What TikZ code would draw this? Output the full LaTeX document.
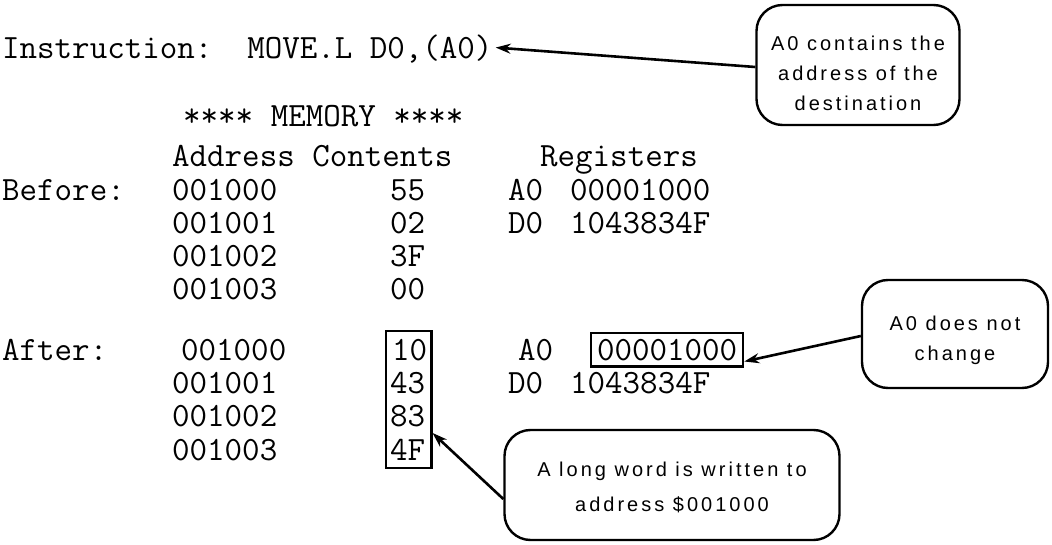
\documentclass[tikz,border=0pt]{standalone}
\usepackage{fontspec}
\newfontfamily\notefont[LetterSpace=15]{Liberation Sans}
\usetikzlibrary{arrows.meta,fit,calc}
\tikzset{every node/.style={inner sep=0pt, anchor=base west, font=\ttfamily\fontsize{34}{34}\selectfont},
  note/.style={draw, line width=2.4pt, rounded corners=26pt, anchor=center},
  notetext/.style={anchor=center, align=center, font=\notefont\fontsize{20}{30}\selectfont},
  pointer/.style={line width=2.6pt, -{Stealth[length=15pt,width=10pt]}},
  framed/.style={draw, line width=2.2pt}}

\begin{document}
\begin{tikzpicture}[x=1pt,y=-1pt]
  \useasboundingbox (0,0) rectangle (1052,545);
  \node (instr) at (2,59) {Instruction:~~MOVE.L D0,(A0)};
  \node (mem) at (183,127) {**** MEMORY ****};
  \node (hdaddr) at (172,167) {Address Contents};
  \node (hdreg) at (540,167) {Registers};
  % before
  \node (before) at (2,201) {Before:};
  \node (b1) at (172,201) {001000};
  \node (b2) at (172,234) {001001};
  \node (b3) at (172,267) {001002};
  \node (b4) at (172,300) {001003};
  \node (bc1) at (390,201) {55};
  \node (bc2) at (390,234) {02};
  \node (bc3) at (390,267) {3F};
  \node (bc4) at (390,300) {00};
  \node (ba0) at (508,201) {A0};
  \node (ba0v) at (570,201) {00001000};
  \node (bd0) at (508,234) {D0};
  \node (bd0v) at (570,234) {1043834F};
  % after
  \node (after) at (2,360) {After:};
  \node (a1) at (181,360) {001000};
  \node (a2) at (172,393) {001001};
  \node (a3) at (172,426) {001002};
  \node (a4) at (172,460) {001003};
  \node (ac1) at (392,360) {10};
  \node (ac2) at (390,393) {43};
  \node (ac3) at (390,426) {83};
  \node (ac4) at (390,460) {4F};
  \node (aa0) at (518,360) {A0};
  \node[framed, inner xsep=6pt, inner ysep=6pt] (aa0v) at (590,360) {00001000};
  \node (ad0) at (508,393) {D0};
  \node (ad0v) at (570,393) {1043834F};
  \node[framed, inner xsep=4pt, inner ysep=8pt, fit=(ac1)(ac2)(ac3)(ac4)] (cbox) {};
  % notes
  \node[note, minimum width=203pt, minimum height=120pt,
    label={[notetext, yshift=-8pt]center:{A0 contains the\\address of the\\destination}}] (ndest) at (858,65) {};
  \node[note, minimum width=186pt, minimum height=108pt,
    label={[notetext, yshift=-6pt]center:{A0 does not\\change}}] (nkeep) at (955,334) {};
  \node[note, minimum width=335pt, minimum height=110pt,
    label={[notetext, yshift=-2pt]center:{A long word is written to\\[5pt]address \$001000}}] (nlong) at (672,485) {};
  \draw[pointer] ([yshift=-2pt]ndest.west) -- ([xshift=3pt,yshift=2pt]instr.east);
  \draw[pointer] ([yshift=-2pt]nkeep.west) -- ([yshift=6pt]aa0v.south east);
  \draw[pointer] ([yshift=-14pt]nlong.west) -- ($(cbox.north east)!0.74!(cbox.south east)$);
\end{tikzpicture}
\end{document}
